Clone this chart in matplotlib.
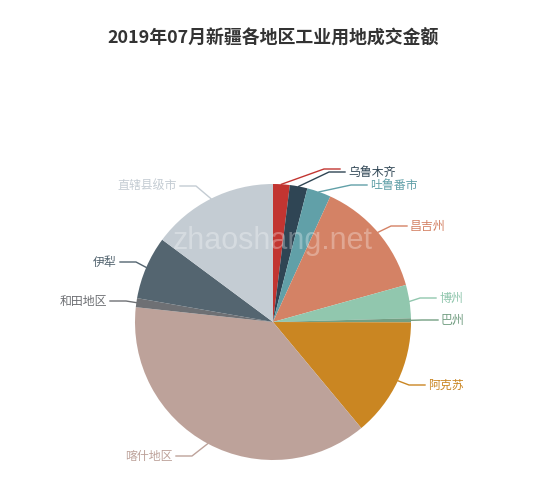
import numpy as np
import matplotlib
matplotlib.use("Agg")
import matplotlib.pyplot as plt

plt.rcParams['font.family'] = ['Noto Sans CJK SC', 'DejaVu Sans']

# region names and transaction amounts
regions = ["克拉玛依", "乌鲁木齐", "吐鲁番市", "昌吉州", "博州", "巴州",
           "阿克苏", "喀什地区", "和田地区", "伊犁", "直辖县级市"]
amounts = [7.0, 7.4, 10.1, 49.8, 14.0, 1.7, 50.0, 135.7, 3.8, 26.6, 53.3]
show_text = [False, True, True, True, True, True, True, True, True, True, True]

colors = ['#c23531', '#2f4554', '#61a0a8', '#d48265', '#91c7ae', '#749f83',
          '#ca8622', '#bda29a', '#6e7074', '#546570', '#c4ccd3']

W, H = 550, 490


def py(y):
    # reference pixel row -> data y
    return H - y


# label anchor points in pixel coords (x, y, side)
label_pos = [(343, 169, 'r'), (348, 172, 'r'), (370, 185, 'r'), (410, 226, 'r'),
             (439, 298, 'r'), (441, 320, 'r'), (428, 385, 'r'),
             (173, 456, 'l'), (107, 301, 'l'), (117, 262, 'l'), (177, 186, 'l')]

fig = plt.figure(figsize=(5.5, 4.9), dpi=100)
ax = fig.add_axes([0, 0, 1, 1])
ax.set_xlim(0, W)
ax.set_ylim(0, H)
ax.set_aspect('equal')
ax.axis('off')

cx, cy, r = 273, py(322), 138
wedges, _ = ax.pie(amounts, colors=colors, startangle=90, counterclock=False,
                   center=(cx, cy), radius=r, frame=True,
                   wedgeprops=dict(linewidth=0))
ax.set_xlim(0, W)
ax.set_ylim(0, H)
ax.axis('off')

for w, name, c, (lx, ly, side), show in zip(wedges, regions, colors, label_pos, show_text):
    mid = np.deg2rad((w.theta1 + w.theta2) / 2)
    ex, ey = cx + r * np.cos(mid), cy + r * np.sin(mid)
    ty = py(ly)
    if side == 'r':
        end_x = lx - 3
        elbow_x = end_x - 16
        ha = 'left'
    else:
        end_x = lx + 3
        elbow_x = end_x + 16
        ha = 'right'
    ax.plot([ex, elbow_x, end_x], [ey, ty, ty], color=c, lw=1, zorder=3)
    if show:
        ax.text(lx, ty, name, color=c, fontsize=8.6, ha=ha, va='center', zorder=4)

ax.text(273, py(241), "zhaoshang.net", fontsize=22, family='Liberation Sans',
        color='white', alpha=0.3, ha='center', va='center', zorder=5)

fig.text(273 / W, 1 - 38 / H, "2019年07月新疆各地区工业用地成交金额",
         fontsize=12.9, fontweight='bold', color='#333333', ha='center', va='center')

fig.savefig("out.png", dpi=100)
